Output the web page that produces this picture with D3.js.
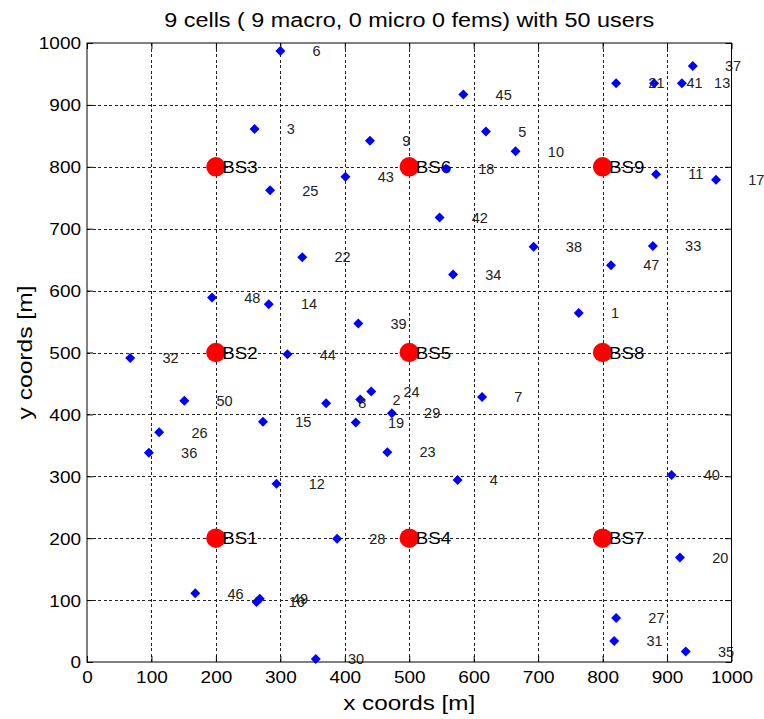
<!DOCTYPE html>
<html><head><meta charset="utf-8">
<script src="https://cdn.jsdelivr.net/npm/d3@7"></script>
<style>
body{margin:0;background:#fff}
text{font-family:"Liberation Sans",Arial,Helvetica,sans-serif}
</style>
</head><body>
<svg id="chart" width="764" height="719"></svg>
<script>
// ---------- data ----------
const titleText = "9 cells ( 9 macro, 0 micro 0 fems) with 50 users";
const xLabelText = "x coords [m]";
const yLabelText = "y coords [m]";
const xTicks = [0,100,200,300,400,500,600,700,800,900,1000];
const yTicks = [0,100,200,300,400,500,600,700,800,900,1000];

const bsNames = ["BS1","BS2","BS3","BS4","BS5","BS6","BS7","BS8","BS9"];
const bsX = [200,200,200,500,500,500,800,800,800];
const bsY = [200,500,800,200,500,800,200,500,800];

const userIds = [1,2,3,4,5,6,7,8,9,10,11,12,13,14,15,16,17,18,19,20,21,22,23,24,25,
                 26,27,28,29,30,31,32,33,34,35,36,37,38,39,40,41,42,43,44,45,46,47,48,49,50];
const userX = [763,424,260,575,619,300,613,371,439,665,883,294,923,282,273,263,976,557,417,920,821,334,466,441,284,
               112,821,388,473,355,818,67,878,568,929,96,940,693,421,907,880,547,401,311,584,168,813,194,268,151];
const userY = [564,424,861,294,857,987,428,418,842,825,788,288,935,578,388,97,779,797,387,169,935,654,339,437,762,
               371,71,199,402,5,34,491,672,626,17,338,963,671,547,302,935,718,784,497,917,111,641,589,102,422];

// ---------- layout ----------
const svg = d3.select("#chart");
const L = 87, R = 731.5, T = 43, B = 662;
const x = d3.scaleLinear().domain([0,1000]).range([L,R]);
const y = d3.scaleLinear().domain([0,1000]).range([B,T]);

function stretch(sel, f){
  sel.each(function(){
    const len = this.getComputedTextLength();
    this.setAttribute("textLength", len*f);
    this.setAttribute("lengthAdjust","spacingAndGlyphs");
  });
}

// grid
const grid = svg.append("g").attr("stroke","#222").attr("stroke-width",1)
  .attr("stroke-dasharray","3,2.5").attr("shape-rendering","crispEdges");
grid.selectAll(".gx").data(xTicks.filter(d=>d>0&&d<1000)).join("line")
  .attr("x1",d=>Math.round(x(d))+0.5).attr("x2",d=>Math.round(x(d))+0.5)
  .attr("y1",T).attr("y2",B);
grid.selectAll(".gy").data(yTicks.filter(d=>d>0&&d<1000)).join("line")
  .attr("y1",d=>Math.round(y(d))+0.5).attr("y2",d=>Math.round(y(d))+0.5)
  .attr("x1",L).attr("x2",R);

// axes (inward ticks on all sides)
const tickLen = 6;
const axB = svg.append("g").attr("transform",`translate(0,${B})`)
  .call(d3.axisBottom(x).tickValues(xTicks).tickSize(-tickLen).tickPadding(10).tickFormat(d3.format("d")));
const axT = svg.append("g").attr("transform",`translate(0,${T})`)
  .call(d3.axisTop(x).tickValues(xTicks).tickSize(-tickLen).tickFormat(""));
const axL = svg.append("g").attr("transform",`translate(${L},0)`)
  .call(d3.axisLeft(y).tickValues(yTicks).tickSize(-tickLen).tickPadding(6).tickFormat(d3.format("d")));
const axR = svg.append("g").attr("transform",`translate(${R},0)`)
  .call(d3.axisRight(y).tickValues(yTicks).tickSize(-tickLen).tickFormat(""));
[axB,axT,axL,axR].forEach(a=>{
  a.select(".domain").remove();
  a.selectAll("line").attr("stroke","#000");
  a.selectAll("text").attr("fill","#000").attr("font-size","16.5px")
   .attr("font-family",'"Liberation Sans",Arial,sans-serif');
});
axB.selectAll("text").attr("dy",null).attr("y",null)
  .attr("transform","translate(0,21.3)");
axL.selectAll("text").attr("dy","0.36em");
stretch(axB.selectAll("text"),1.15);
stretch(axL.selectAll("text"),1.15);

// base stations
svg.append("g").selectAll("circle").data(bsNames).join("circle")
  .attr("cx",(d,i)=>x(bsX[i])).attr("cy",(d,i)=>y(bsY[i]))
  .attr("r",9.7).attr("fill","#ff0000");
const bsLab = svg.append("g").selectAll("text").data(bsNames).join("text")
  .attr("x",(d,i)=>x(bsX[i]+10)).attr("y",(d,i)=>y(bsY[i]))
  .attr("dy","0.36em").attr("font-size","17px").attr("fill","#000").text(d=>d);
stretch(bsLab,1.1);

// users
svg.append("g").selectAll("path").data(userIds).join("path")
  .attr("d",d3.symbol().type(d3.symbolSquare).size(50))
  .attr("transform",(d,i)=>`translate(${x(userX[i])},${y(userY[i])}) rotate(45)`)
  .attr("fill","#0000ff");
svg.append("g").selectAll("text").data(userIds).join("text")
  .attr("x",(d,i)=>x(userX[i]+50)).attr("y",(d,i)=>y(userY[i]))
  .attr("dy","0.36em").attr("font-size","14.5px").attr("fill","#222").text(d=>d);

// frame
svg.append("rect").attr("x",L).attr("y",T).attr("width",R-L).attr("height",B-T)
  .attr("fill","none").attr("stroke","#000").attr("stroke-width",1);

// title & axis labels
svg.append("text").attr("x",(L+R)/2).attr("y",26.5).attr("text-anchor","middle")
  .attr("font-size","19.5px").attr("fill","#000").text(titleText)
  .attr("textLength",490).attr("lengthAdjust","spacingAndGlyphs");
svg.append("text").attr("x",(L+R)/2).attr("y",710).attr("text-anchor","middle")
  .attr("font-size","20.5px").attr("fill","#000").text(xLabelText)
  .attr("textLength",132).attr("lengthAdjust","spacingAndGlyphs");
svg.append("text").attr("transform",`translate(32,${(T+B)/2}) rotate(-90)`)
  .attr("text-anchor","middle").attr("font-size","20.5px").attr("fill","#000").text(yLabelText)
  .attr("textLength",134).attr("lengthAdjust","spacingAndGlyphs");
</script>
</body></html>
